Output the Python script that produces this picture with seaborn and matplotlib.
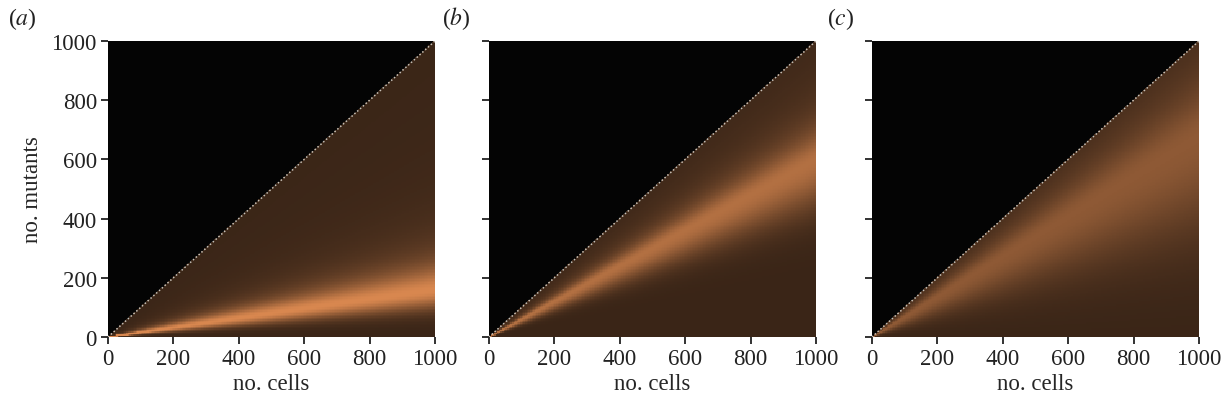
import numpy as np
import pandas as pd
import matplotlib
matplotlib.use("Agg")
import matplotlib.pyplot as plt
from matplotlib.colors import LinearSegmentedColormap
import seaborn as sns

sns.set_style("white")
plt.rcParams["font.family"] = ["Liberation Serif", "DejaVu Serif"]
plt.rcParams["mathtext.fontset"] = "stix"

# values: ridge of the mutant fraction (mutants / cells)
panel_tags = ["a", "b", "c"]
ridge_centre = [0.16, 0.60, 0.68]     # fraction at the brightest point
ridge_sd_low = [0.045, 0.11, 0.22]    # spread below the ridge
ridge_sd_high = [0.08, 0.10, 0.17]    # spread above the ridge (heavy tail)
peak_level = [1.0, 0.76, 0.53]        # brightness of the ridge

n_max = 1000
step = 5
tick_values = [0, 200, 400, 600, 800, 1000]

cells = np.arange(step / 2, n_max, step)
mutants = np.arange(step / 2, n_max, step)

cmap = LinearSegmentedColormap.from_list("brown", ["#3a2517", "#d8874f"])


def density_table(centre, sd_low, sd_high, level):
    frac = mutants[:, None] / cells[None, :]
    low = np.exp(-0.5 * ((frac - centre) / sd_low) ** 2)
    high = 1.0 / (1.0 + ((frac - centre) / sd_high) ** 2)
    dens = np.where(frac < centre, low, high)
    dens = dens / dens.max(axis=0, keepdims=True) * level
    dens[mutants[:, None] > cells[None, :]] = np.nan
    return pd.DataFrame(dens, index=mutants, columns=cells)


fig = plt.figure(figsize=(12.29, 4.10), dpi=100)
lefts = [108, 489, 872]
for k, tag in enumerate(panel_tags):
    ax = fig.add_axes([lefts[k] / 1229, 72 / 410, 327 / 1229, 296 / 410])
    table = density_table(ridge_centre[k], ridge_sd_low[k], ridge_sd_high[k], peak_level[k])
    sns.heatmap(table, ax=ax, cmap=cmap, vmin=0, vmax=1, cbar=False,
                xticklabels=False, yticklabels=False, rasterized=True)
    ax.invert_yaxis()
    ax.set_facecolor("#040404")

    # diagonal: no. mutants == no. cells
    diag = np.array([0, n_max]) / step
    ax.plot(diag, diag, ls=(0, (1, 1.5)), color="#c9c2b8", lw=1.1)

    pos = np.array(tick_values) / step
    ax.set_xticks(pos)
    ax.set_xticklabels([str(v) for v in tick_values], fontsize=16.5)
    ax.set_yticks(pos)
    if k == 0:
        ax.set_yticklabels([str(v) for v in tick_values], fontsize=16.5)
        ax.set_ylabel("no. mutants", fontsize=16.5, labelpad=6)
    else:
        ax.set_yticklabels([])
        ax.set_ylabel("")
    ax.set_xlabel("no. cells", fontsize=16.5, labelpad=3)
    ax.tick_params(axis="both", direction="out", length=5, width=1.3,
                   color="#222222", labelcolor="#222222", pad=3,
                   bottom=True, left=True)
    ax.set_xlim(0, n_max / step)
    ax.set_ylim(0, n_max / step)
    for s in ax.spines.values():
        s.set_visible(False)

    fig.text([8, 442, 827][k] / 1229, 0.94, r"($\it{%s}$)" % tag,
             fontsize=17, color="#222222")

fig.savefig("out.png", dpi=100)
